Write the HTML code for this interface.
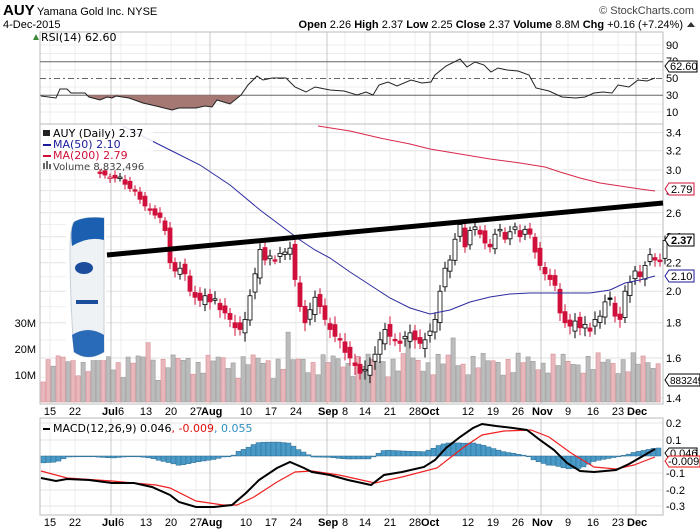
<!DOCTYPE html>
<html><head><meta charset="utf-8">
<style>
body{margin:0;background:#fff;}
svg{display:block;font-family:"DejaVu Sans","Liberation Sans",sans-serif;}
</style></head>
<body>
<svg id="c" width="700" height="530" xmlns="http://www.w3.org/2000/svg">
<rect width="700" height="530" fill="#fff"/>
<g id="grid"></g>
<g id="vol"></g>
<rect x="40" y="32" width="623" height="92" fill="none" stroke="#bbb"/>
<rect x="40" y="124" width="623" height="280" fill="none" stroke="#bbb"/>
<rect x="40" y="418" width="623" height="97" fill="none" stroke="#bbb"/>
<line x1="40" y1="61.75" x2="663" y2="61.75" stroke="#666"/>
<line x1="40" y1="95.25" x2="663" y2="95.25" stroke="#666"/>
<line x1="40" y1="78.5" x2="663" y2="78.5" stroke="#666" stroke-dasharray="6,3,2,3"/>
<path id="rsifill" fill="#a57874"/>
<polyline id="rsi" fill="none" stroke="#222" stroke-width="1"/>
<g id="cand"></g>
<polyline id="ma50" fill="none" stroke="#2b2ba0" stroke-width="1"/>
<polyline id="ma200" fill="none" stroke="#d8284a" stroke-width="1"/>
<line x1="107" y1="255" x2="663" y2="203" stroke="#000" stroke-width="5"/>
<g id="hist"></g>
<polyline id="sig" fill="none" stroke="#f02020" stroke-width="1.2"/>
<polyline id="macd" fill="none" stroke="#000" stroke-width="2"/>
<g>
<rect x="66" y="218" width="40" height="142" fill="#fff"/>
<path d="M74 222 Q84 216 104 218 L104 352 Q88 362 74 352 Q70 300 70 250 Q70 228 74 222Z" fill="#eef2f5" stroke="#c8d0d8"/>
<path d="M74 222 Q84 216 104 218 L104 240 Q88 236 72 246 Q70 230 74 222Z" fill="#1a5fb0"/>
<ellipse cx="84" cy="268" rx="9" ry="6" fill="#1a4d9c"/>
<rect x="76" y="300" width="22" height="4" fill="#1a4d9c"/>
<path d="M72 335 Q88 325 104 335 L104 352 Q88 362 74 352Z" fill="#2a6bb8"/>
</g>
<g font-size="11">
<rect x="41" y="125" width="112" height="44" fill="#fff" opacity="0.85"/>
<text x="53" y="137" fill="#000">AUY (Daily) 2.37</text>
<text x="53" y="148" fill="#1a1a9a">MA(50) 2.10</text>
<text x="53" y="159" fill="#d0103a">MA(200) 2.79</text>
<text x="53" y="170" fill="#444" font-size="10">Volume 8,832,496</text>
<rect x="43" y="130" width="7" height="6" fill="#222"/>
<rect x="43" y="144" width="8" height="2" fill="#1a1a9a"/>
<rect x="43" y="155" width="8" height="2" fill="#d0103a"/>
<rect x="43" y="163" width="2" height="6" fill="#666"/><rect x="46" y="161" width="2" height="8" fill="#666"/><rect x="49" y="164" width="2" height="5" fill="#666"/>
</g>
<text x="3" y="15" font-size="15" font-weight="bold" font-family="Liberation Sans">AUY</text>
<text x="37" y="15" font-size="11" font-family="Liberation Sans">Yamana Gold Inc. NYSE</text>
<text x="3" y="28" font-size="11" font-family="Liberation Sans">4-Dec-2015</text>
<text x="694" y="14" font-size="11" text-anchor="end" fill="#444" font-family="Liberation Sans">© StockCharts.com</text>
<text x="683" y="28" font-size="11" text-anchor="end" font-family="Liberation Sans"><tspan font-weight="bold">Open</tspan> 2.26 <tspan font-weight="bold">High</tspan> 2.37 <tspan font-weight="bold">Low</tspan> 2.25 <tspan font-weight="bold">Close</tspan> 2.37 <tspan font-weight="bold">Volume</tspan> 8.8M <tspan font-weight="bold">Chg</tspan> +0.16 (+7.24%)</text>
<path d="M687 27 L691 22 L695 27Z" fill="#333"/>
<path d="M33 40 L36 34 L39 40Z" fill="#3a8a3a"/>
<text x="41" y="41" font-size="11">RSI(14) 62.60</text>
<g font-size="11" fill="#000" font-family="Liberation Sans">
<text x="666" y="49">90</text><text x="666" y="65">70</text><text x="666" y="82">50</text><text x="666" y="99">30</text><text x="666" y="116">10</text>
</g>
<g id="plab" font-size="11" font-family="Liberation Sans"></g>
<g font-size="11" font-family="Liberation Sans">
<text x="36" y="327" text-anchor="end">30M</text><text x="36" y="353" text-anchor="end">20M</text><text x="36" y="379" text-anchor="end">10M</text>
</g>
<g font-size="11" font-family="Liberation Sans">
<path d="M665 66 L669 61 L697 61 L697 72 L669 72Z" fill="#fff" stroke="#000"/><text x="670" y="70">62.60</text>
<path d="M665 189 L669 183 L694 183 L694 195 L669 195Z" fill="#fff" stroke="#d0103a"/><text x="671" y="193">2.79</text>
<path d="M665 240 L669 234 L694 234 L694 246 L669 246Z" fill="#fff" stroke="#000"/><text x="671" y="244" font-weight="bold">2.37</text>
<path d="M665 276 L669 270 L694 270 L694 282 L669 282Z" fill="#fff" stroke="#1a1a9a"/><text x="671" y="280">2.10</text>
<path d="M665 380 L669 374 L700 374 L700 386 L669 386Z" fill="#fff" stroke="#000"/><text x="670" y="384" font-size="10">883249</text>
</g>
<rect x="43" y="428" width="7" height="2" fill="#000"/>
<text x="53" y="432" font-size="11">MACD(12,26,9) 0.046<tspan fill="#e01010">, -0.009</tspan><tspan fill="#3090c0">, 0.055</tspan></text>
<g font-size="11" font-family="Liberation Sans">
<text x="666" y="427">0.2</text><text x="666" y="444">0.1</text><text x="666" y="477">-0.1</text><text x="666" y="494">-0.2</text><text x="666" y="510">-0.3</text>
<path d="M665 453 L669 448 L697 448 L697 459 L669 459Z" fill="#fff" stroke="#000"/><text x="670" y="457">0.046</text>
<path d="M665 461 L669 456 L700 456 L700 467 L669 467Z" fill="#fff" stroke="#e01010"/><text x="668" y="465">-0.009</text>
</g>
<g id="dates1" font-size="11" font-family="Liberation Sans"></g>
<g id="dates2" font-size="11" font-family="Liberation Sans"></g>
</svg>
<script>
(function(){
var NS="http://www.w3.org/2000/svg";
function el(p,t,a,txt){var e=document.createElementNS(NS,t);for(var k in a)e.setAttribute(k,a[k]);if(txt!=null)e.textContent=txt;document.getElementById(p).appendChild(e);return e;}
function Y(p){return 170-299*Math.log(p/3);}
[3.4,3.2,3.0,2.8,2.6,2.4,2.2,2.0,1.8,1.6,1.4].forEach(function(p){el('grid','line',{x1:40,x2:663,y1:Y(p),y2:Y(p),stroke:'#e2e2e2'});el('plab','text',{x:666,y:Y(p)+4},p.toFixed(1));});
[2.9,2.7,2.5,2.3,2.1,1.9,1.7,1.5].forEach(function(p){el('grid','line',{x1:40,x2:663,y1:Y(p),y2:Y(p),stroke:'#efefef'});});
[45,53.5,70,87,104,112].forEach(function(y){el('grid','line',{x1:40,x2:663,y1:y,y2:y,stroke:'#ececec'});});
[423,440,473,490,506].forEach(function(y){el('grid','line',{x1:40,x2:663,y1:y,y2:y,stroke:'#e6e6e6'});});
var D=[["15",50],["22",75],["Jul",106,1],["6",121],["13",146],["20",171],["27",196],["Aug",221,1],["10",246],["17",271],["24",296],["Sep",325,1],["8",345],["14",365],["21",390],["28",415],["Oct",435,1],["12",468],["19",493],["26",518],["Nov",543,1],["9",568],["16",593],["23",618],["Dec",641,1]];
var ML={Jul:111,Aug:210,Sep:327,Oct:430,Nov:541,Dec:636};
D.forEach(function(d){var x=d[1];var lx=d[2]?ML[d[0]]:x;
 el('grid','line',{x1:lx,x2:lx,y1:32,y2:404,stroke:d[2]?'#c8c8c8':'#ececec'});
 el('grid','line',{x1:lx,x2:lx,y1:418,y2:515,stroke:d[2]?'#c8c8c8':'#ececec'});
 var a={x:x,y:415,'text-anchor':d[2]?'start':'middle'};if(d[2]){a['font-weight']='bold';a.x=lx-9;}
 el('dates1','text',a,d[0]);var b=Object.assign({},a);b.y=526;el('dates2','text',b,d[0]);});
var C=[2.97,2.95,2.93,2.92,2.93,2.86,2.82,2.80,2.72,2.66,2.63,2.58,2.56,2.45,2.20,2.14,2.16,2.12,2.0,1.96,1.94,1.97,1.93,1.95,1.88,1.86,1.82,1.77,1.76,1.82,1.97,2.12,2.30,2.22,2.25,2.22,2.27,2.28,2.31,2.08,1.90,1.80,1.88,1.96,1.90,1.82,1.76,1.72,1.70,1.63,1.60,1.56,1.52,1.54,1.56,1.62,1.70,1.76,1.72,1.70,1.68,1.72,1.74,1.70,1.68,1.70,1.75,1.82,2.0,2.16,2.22,2.38,2.50,2.32,2.45,2.48,2.42,2.35,2.32,2.42,2.46,2.38,2.44,2.48,2.40,2.46,2.42,2.28,2.18,2.12,2.08,2.04,1.86,1.80,1.78,1.81,1.77,1.79,1.75,1.82,1.84,1.93,1.95,1.84,1.82,2.0,2.06,2.14,2.10,2.18,2.26,2.22,2.21,2.37];
var prev=2.98;
for(var i=0;i<C.length;i++){var x=100+5*i,c=C[i];var o=prev+(Math.sin(i*2.3)*0.03);var hi=Math.max(o,c)+0.03+0.02*Math.abs(Math.sin(i*1.7)),lo=Math.min(o,c)-0.03-0.02*Math.abs(Math.cos(i*1.3));
 var down=c<prev,col=down?'#d0103a':'#000';
 el('cand','line',{x1:x,x2:x,y1:Y(hi),y2:Y(lo),stroke:col});
 var t=Y(Math.max(o,c)),b=Y(Math.min(o,c));if(b-t<1.5)b=t+1.5;
 el('cand','rect',{x:x-2,y:t,width:4,height:b-t,fill:c>=o?'#fff':col,stroke:col,'stroke-width':0.8});
 prev=c;}
for(var i=0;i<124;i++){var x=41+5*i;var h=20+18*Math.abs(Math.sin(i*1.37))+12*Math.abs(Math.sin(i*0.41));
 if(i==21||i==49||i==73||i==82)h+=22;
 var dn=(Math.sin(i*2.1+1)>0);
 el('vol','rect',{x:x,y:402-h,width:4.2,height:h,fill:dn?'#e8b8bc':'#bcbcbc',stroke:dn?'#d88c92':'#999','stroke-width':0.6});}
function pl(id,pts){document.getElementById(id).setAttribute('points',pts.map(function(p){return p.join(',')}).join(' '));}
var rsi=[[41,96],[56,98],[60,89],[67,89],[71,93],[85,93],[89,97],[100,100],[107,97],[112,98],[116,96],[129,98],[143,103],[156,106],[172,110],[179,108],[196,108],[205,106],[212,107],[217,100],[230,104],[241,95],[248,85],[257,76],[263,80],[272,78],[286,78],[295,87],[306,92],[315,87],[330,90],[344,91],[357,95],[366,92],[373,95],[379,85],[388,82],[397,86],[411,80],[422,83],[431,82],[435,75],[446,66],[460,59],[467,67],[475,62],[484,65],[491,72],[498,68],[507,70],[518,71],[529,75],[536,88],[549,91],[562,97],[576,98],[585,97],[594,93],[603,92],[612,93],[618,85],[629,87],[638,80],[647,81],[655,78]];
pl('rsi',rsi);
var f="M85,95.25 "+rsi.filter(function(p){return p[0]>=85&&p[0]<=241}).map(function(p){return "L"+p[0]+","+Math.max(p[1],95.25)}).join(" ")+" L241,95.25Z";
document.getElementById('rsifill').setAttribute('d',f);
pl('ma50',[[123,126],[150,140],[170,150],[200,165],[230,185],[260,210],[280,225],[300,240],[315,250],[330,258],[350,272],[370,285],[390,298],[410,308],[430,314],[450,310],[470,302],[490,297],[510,294],[530,293],[560,293],[590,293],[610,290],[625,283],[640,280],[655,276]]);
pl('ma200',[[318,126],[350,131],[380,138],[410,144],[430,149],[460,154],[490,159],[520,163],[545,167],[560,172],[580,178],[600,183],[620,186],[640,189],[655,191]]);
var M=[[41,478],[56,481],[67,479],[89,480],[112,483],[134,483],[152,487],[170,495],[179,502],[196,507],[214,507],[232,505],[246,493],[259,480],[277,468],[290,462],[304,468],[312,472],[330,475],[348,480],[371,485],[384,475],[402,472],[424,467],[435,460],[446,448],[460,437],[473,428],[482,424],[496,426],[513,428],[527,430],[540,440],[554,450],[567,463],[580,471],[594,472],[616,470],[629,464],[643,456],[655,449]];
var S=[[41,471],[67,478],[112,481],[156,485],[170,488],[196,501],[223,505],[237,505],[254,497],[277,482],[295,472],[312,471],[339,475],[375,483],[402,477],[437,468],[464,447],[482,435],[504,431],[531,430],[549,437],[571,453],[594,467],[616,469],[634,465],[655,457]];
pl('macd',M);pl('sig',S);
function interp(a,x){for(var i=1;i<a.length;i++){if(x<=a[i][0]){var t=(x-a[i-1][0])/(a[i][0]-a[i-1][0]);return a[i-1][1]+t*(a[i][1]-a[i-1][1]);}}return a[a.length-1][1];}
for(var i=0;i<124;i++){var x=41+5*i;var v=(interp(M,x+2)-interp(S,x+2));var ty=Math.min(456,456+v),hh=Math.abs(v);if(hh<0.8)hh=0.8;
 el('hist','rect',{x:x,y:ty,width:5,height:hh,fill:'#4a9ac8',stroke:'#2a6a90','stroke-width':0.5});}
})();
</script>
</body></html>
